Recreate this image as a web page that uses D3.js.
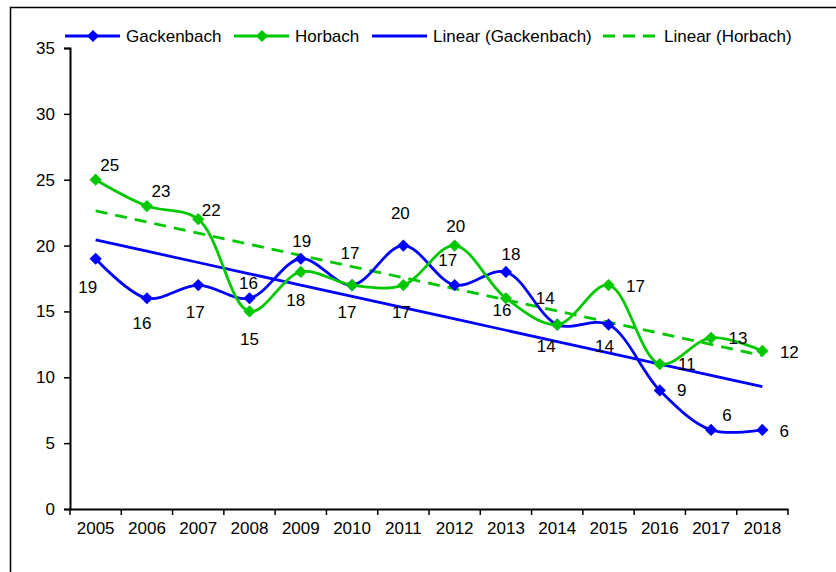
<!DOCTYPE html>
<html>
<head>
<meta charset="utf-8">
<script src="https://cdn.jsdelivr.net/npm/d3@7"></script>
<style>
  body { margin: 0; background: #fff; }
  svg text { font-family: "Liberation Sans", Arial, sans-serif; fill: #000; }
</style>
</head>
<body>
<svg id="chart" width="836" height="572"></svg>
<script>
// data
var years = ["2005","2006","2007","2008","2009","2010","2011","2012","2013","2014","2015","2016","2017","2018"]
var gackenbach = [19, 16, 17, 16, 19, 17, 20, 17, 18, 14, 14, 9, 6, 6]
var horbach = [25, 23, 22, 15, 18, 17, 17, 20, 16, 14, 17, 11, 13, 12]
var yTicks = [0, 5, 10, 15, 20, 25, 30, 35]

// where each data label sits relative to its point (dx, dy)
var gackLabelOff = [[-8,28],[-5,25],[-3,27],[-1,-15],[1,-18],[-2,-32],[-3,-33],[-7,-25],[5,-18],[-12,-27],[-4,21],[22,0],[16,-15],[22,1]]
var horbLabelOff = [[14,-15],[14,-15],[13,-9],[0,28],[-5,28],[-5,27],[-2,27],[1,-20],[-4,12],[-11,21],[27,1],[27,0],[27,0],[27,1]]

var blue = "#0000ff"
var green = "#00c800"
var fs = 17

var svg = d3.select("#chart")

svg.append("rect")
  .attr("x", 10.5).attr("y", 7.5)
  .attr("width", 830).attr("height", 580)
  .attr("fill", "none")
  .attr("stroke", "#000")
  .attr("stroke-width", 1.5)

var x = d3.scaleBand().domain(years).range([70, 788])
var y = d3.scaleLinear().domain([0, 35]).range([509, 48])
var cx = d => x(d) + x.bandwidth() / 2

// axes
var yAxis = svg.append("g")
  .attr("transform", "translate(70,0)")
  .call(d3.axisLeft(y).tickValues(yTicks).tickSize(6).tickPadding(9))
yAxis.select(".domain").attr("stroke-width", 2)
yAxis.selectAll(".tick line").attr("stroke-width", 1.5)
yAxis.selectAll("text").attr("font-size", fs)

var xAxis = svg.append("g")
  .attr("transform", "translate(0,509)")
  .call(d3.axisBottom(x).tickSize(0).tickPadding(13))
xAxis.select(".domain").attr("stroke-width", 2)
xAxis.selectAll("text").attr("font-size", fs)
// category boundary ticks
xAxis.selectAll("line.bound")
  .data(d3.range(years.length + 1))
  .enter()
  .append("line")
  .attr("class", "bound")
  .attr("x1", i => 70 + i * x.step())
  .attr("x2", i => 70 + i * x.step())
  .attr("y1", 0).attr("y2", 6)
  .attr("stroke", "#000")
  .attr("stroke-width", 1.5)

// linear trend by least squares
function trend(vals) {
  var n = vals.length
  var mx = (n - 1) / 2
  var my = d3.mean(vals)
  var sxy = d3.sum(vals, (v, i) => (i - mx) * (v - my))
  var sxx = d3.sum(vals, (v, i) => (i - mx) * (i - mx))
  var b = sxy / sxx
  return vals.map((v, i) => my + b * (i - mx))
}

var straight = d3.line()
  .x((d, i) => cx(years[i]))
  .y(d => y(d))

var smooth = d3.line()
  .x((d, i) => cx(years[i]))
  .y(d => y(d))
  .curve(d3.curveCatmullRom.alpha(0.5))

svg.append("path")
  .datum(trend(gackenbach))
  .attr("d", straight)
  .attr("fill", "none")
  .attr("stroke", blue)
  .attr("stroke-width", 2.8)

svg.append("path")
  .datum(trend(horbach))
  .attr("d", straight)
  .attr("fill", "none")
  .attr("stroke", green)
  .attr("stroke-width", 2.8)
  .attr("stroke-dasharray", "12,8")

var diamond = d3.symbol().type(d3.symbolDiamond2).size(95)

function series(vals, color) {
  var g = svg.append("g")
  g.append("path")
    .datum(vals)
    .attr("d", smooth)
    .attr("fill", "none")
    .attr("stroke", color)
    .attr("stroke-width", 2.8)
  g.selectAll("path.mark")
    .data(vals)
    .enter()
    .append("path")
    .attr("class", "mark")
    .attr("d", diamond)
    .attr("transform", (d, i) => `translate(${cx(years[i])},${y(d)})`)
    .attr("fill", color)
  return g
}

series(gackenbach, blue)
series(horbach, green)

function labels(vals, offs) {
  svg.append("g").selectAll("text")
    .data(vals)
    .enter()
    .append("text")
    .attr("x", (d, i) => cx(years[i]) + offs[i][0])
    .attr("y", (d, i) => y(d) + offs[i][1])
    .attr("dy", "0.35em")
    .attr("text-anchor", "middle")
    .attr("font-size", fs)
    .text(d => d)
}
labels(gackenbach, gackLabelOff)
labels(horbach, horbLabelOff)

// legend
var legend = [
  {name: "Gackenbach", color: blue, x: 65, marker: true},
  {name: "Horbach", color: green, x: 234, marker: true},
  {name: "Linear (Gackenbach)", color: blue, x: 372, marker: false},
  {name: "Linear (Horbach)", color: green, x: 603, marker: false, dash: true}
]
var lg = svg.append("g").selectAll("g")
  .data(legend)
  .enter()
  .append("g")
  .attr("transform", d => `translate(${d.x},36)`)
lg.append("line")
  .attr("x1", 0).attr("x2", 55)
  .attr("stroke", d => d.color)
  .attr("stroke-width", 2.8)
  .attr("stroke-dasharray", d => d.dash ? "12,8" : null)
lg.filter(d => d.marker)
  .append("path")
  .attr("d", diamond)
  .attr("transform", "translate(28,0)")
  .attr("fill", d => d.color)
lg.append("text")
  .attr("x", 61)
  .attr("dy", "0.35em")
  .attr("font-size", fs)
  .text(d => d.name)
</script>
</body>
</html>
